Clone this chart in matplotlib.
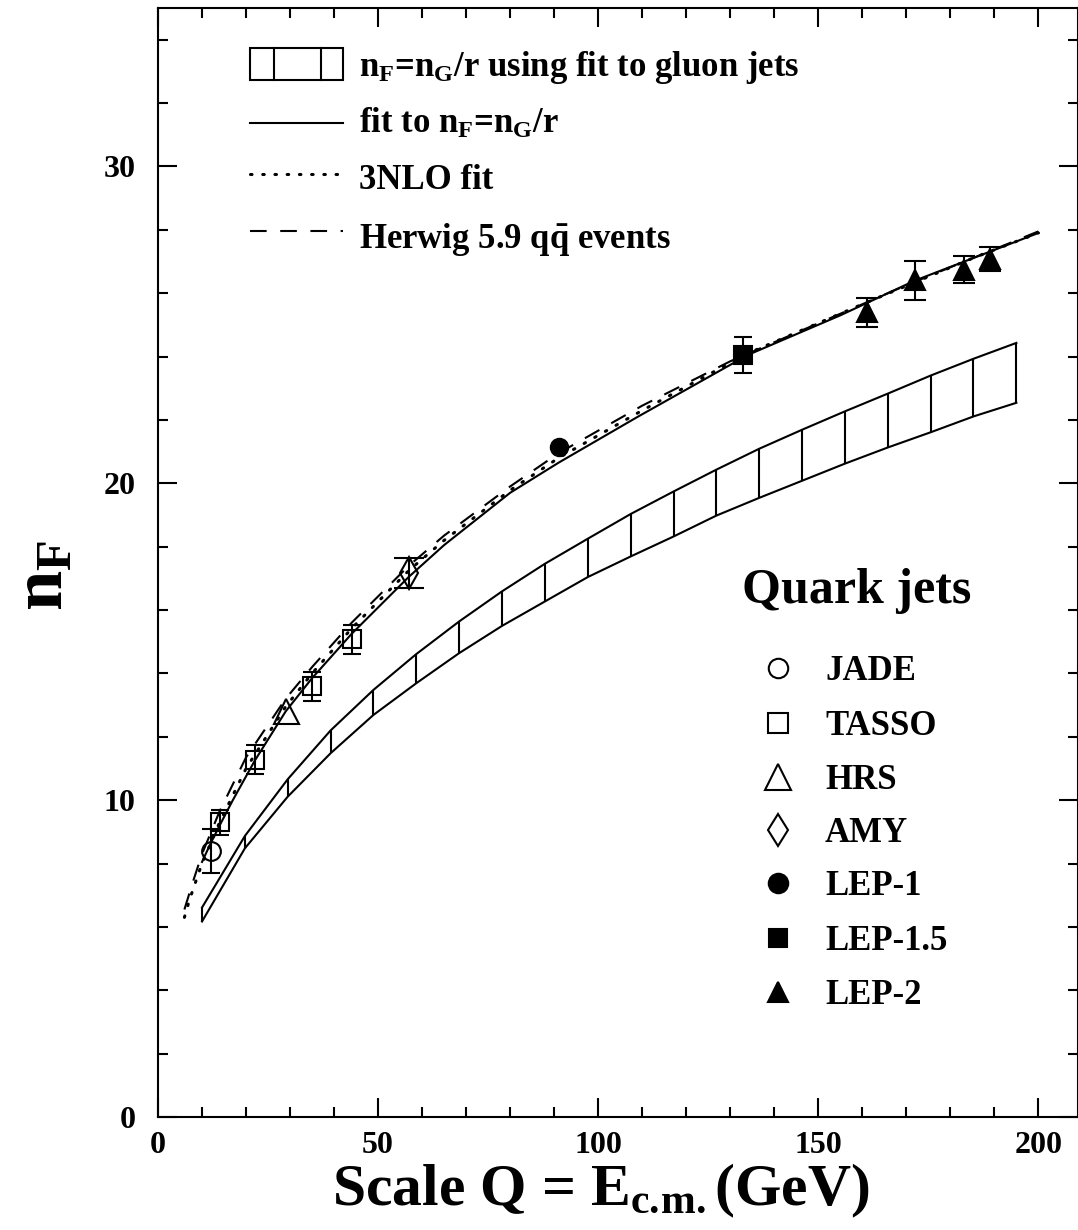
import numpy as np
import matplotlib
matplotlib.use("Agg")
import matplotlib.pyplot as plt
from matplotlib.ticker import MultipleLocator
from matplotlib.patches import Rectangle
from matplotlib.lines import Line2D

plt.rcParams['font.family'] = 'Liberation Serif'
plt.rcParams['font.weight'] = 'bold'
plt.rcParams['mathtext.fontset'] = 'custom'
plt.rcParams['mathtext.rm'] = 'Liberation Serif:bold'
plt.rcParams['mathtext.bf'] = 'Liberation Serif:bold'
plt.rcParams['mathtext.it'] = 'Liberation Serif:bold'

# band: n_F = n_G/r using fit to gluon jets
band_q = [10, 19.74, 29.47, 39.21, 48.95, 58.68, 68.42, 78.16, 87.89, 97.63,
          107.37, 117.11, 126.84, 136.58, 146.32, 156.05, 165.79, 175.53, 185.26, 195]
band_hi = [6.61, 8.87, 10.66, 12.20, 13.48, 14.61, 15.64, 16.59, 17.46, 18.25,
           19.03, 19.74, 20.43, 21.09, 21.69, 22.27, 22.83, 23.40, 23.93, 24.43]
band_lo = [6.17, 8.48, 10.11, 11.48, 12.69, 13.69, 14.64, 15.50, 16.27, 17.04,
           17.69, 18.32, 18.98, 19.54, 20.08, 20.62, 21.13, 21.61, 22.11, 22.54]

# fit to n_F = n_G/r (solid)
fit_q = [10, 12, 14, 17, 22, 29, 35, 44, 57, 65, 80, 91, 109, 134, 155, 172, 186, 200]
fit_n = [8.05, 8.65, 9.2, 10.0, 11.25, 12.8, 13.85, 15.25, 17.05, 18.05, 19.7, 20.65,
         22.1, 24.05, 25.3, 26.4, 27.15, 27.9]

# 3NLO fit (dotted)
nlo_q = [6, 7, 8, 9, 10, 14, 20, 29, 35, 44, 57, 65, 80, 91, 110, 134, 160, 185, 200]
nlo_n = [6.3, 6.78, 7.2, 7.6, 8.0, 9.3, 11.0, 12.95, 14.0, 15.42, 17.25, 18.2, 19.78,
         20.8, 22.3, 24.1, 25.65, 27.1, 27.9]

# Herwig 5.9 qq events (dashed)
hw_q = [6, 8, 10, 14, 20, 29, 35, 44, 57, 65, 80, 91, 110, 130, 150, 170, 185, 200]
hw_n = [6.55, 7.45, 8.3, 9.65, 11.35, 13.2, 14.2, 15.6, 17.4, 18.35, 19.9, 20.95,
        22.45, 23.85, 25.05, 26.25, 27.1, 27.95]

# data
jade_q, jade_n, jade_e = [12], [8.4], [0.7]
tasso_q, tasso_n, tasso_e = [14, 22, 35, 44], [9.3, 11.28, 13.59, 15.07], [0.4, 0.47, 0.45, 0.45]
hrs_q, hrs_n = [29], [12.8]
amy_q, amy_n, amy_e = [57], [17.17], [0.48]
lep1_q, lep1_n = [91.2], [21.13]
lep15_q, lep15_n, lep15_e = [133], [24.05], [0.56]
lep2_q = [161, 172, 183, 189]
lep2_n = [25.39, 26.4, 26.74, 27.08]
lep2_e = [0.46, 0.6, 0.42, 0.38]

fig = plt.figure(figsize=(10.78, 12.30), dpi=100)
ax = fig.add_axes([158/1078, 1-1117/1230, 920/1078, 1109/1230])

lw = 1.5
# band
ax.plot(band_q, band_hi, color='black', lw=lw)
ax.plot(band_q, band_lo, color='black', lw=lw)
ax.vlines(band_q, band_lo, band_hi, color='black', lw=lw)

# curves
ax.plot(fit_q, fit_n, color='black', lw=lw)
ax.plot(nlo_q, nlo_n, color='black', lw=2.2, linestyle=(0, (0.5, 3.5)), dash_capstyle='round')
ax.plot(hw_q, hw_n, color='black', lw=lw, linestyle=(0, (8, 6.5)))

# data points
eb = dict(color='black', ecolor='black', elinewidth=lw, capthick=lw, mew=lw, linestyle='none')
ax.errorbar(jade_q, jade_n, yerr=jade_e, fmt='o', ms=13.5, mfc='none', capsize=6.5, **eb)
ax.errorbar(tasso_q, tasso_n, yerr=tasso_e, fmt='s', ms=13, mfc='none', capsize=6.5, **eb)
ax.plot(hrs_q, hrs_n, '^', ms=18, mfc='none', mec='black', mew=lw)
ax.errorbar(amy_q, amy_n, yerr=amy_e, fmt='d', ms=16, mfc='none', capsize=11, **eb)
ax.plot(lep1_q, lep1_n, 'o', ms=13, color='black')
ax.errorbar(lep15_q, lep15_n, yerr=lep15_e, fmt='s', ms=13, capsize=6.5, **eb)
ax.errorbar(lep2_q, lep2_n, yerr=lep2_e, fmt='^', ms=15, capsize=8, **eb)

ax.set_xlim(0, 209)
ax.set_ylim(0, 35)
ax.xaxis.set_major_locator(MultipleLocator(50))
ax.xaxis.set_minor_locator(MultipleLocator(10))
ax.yaxis.set_major_locator(MultipleLocator(10))
ax.yaxis.set_minor_locator(MultipleLocator(2))
ax.tick_params(which='both', direction='in', top=True, right=True, width=1.5, labelsize=23)
ax.tick_params(which='major', length=13.7)
ax.tick_params(which='minor', length=7.2)
ax.tick_params(axis='x', pad=10)
ax.tick_params(axis='y', pad=16)
for s in ax.spines.values():
    s.set_linewidth(1.5)

fig.text(601/1078, 1-1205/1230, r'Scale Q = E$_{\mathrm{c.\!m.}}$(GeV)', fontsize=43,
         ha='center', va='baseline')
fig.text(45/1078, 1-575/1230, r'n$_\mathrm{F}$', fontsize=52, rotation=90,
         ha='center', va='center')

# top legend (axes fraction)
T = ax.transAxes
ax.add_patch(Rectangle((0.100, 0.935), 0.101, 0.029, transform=T, fill=False, lw=lw, clip_on=False))
for xv in [0.126, 0.177]:
    ax.add_line(Line2D([xv, xv], [0.935, 0.964], transform=T, color='black', lw=lw))
ax.add_line(Line2D([0.100, 0.201], [0.896, 0.896], transform=T, color='black', lw=lw))
ax.add_line(Line2D([0.100, 0.201], [0.850, 0.850], transform=T, color='black', lw=2.2,
                   linestyle=(0, (0.5, 3.5)), dash_capstyle='round'))
ax.add_line(Line2D([0.100, 0.201], [0.799, 0.799], transform=T, color='black', lw=lw,
                   linestyle=(0, (8, 6.5))))
top_labels = [r'n$_\mathrm{F}$=n$_\mathrm{G}$/r using fit to gluon jets',
              r'fit to n$_\mathrm{F}$=n$_\mathrm{G}$/r',
              '3NLO fit',
              r'Herwig 5.9 q$\bar{\mathrm{q}}$ events']
top_y = [0.9387, 0.8873, 0.8368, 0.7836]
for lab, yv in zip(top_labels, top_y):
    ax.text(0.2185, yv, lab, transform=T, fontsize=25, va='baseline')

# data legend
ax.text(0.635, 0.4635, 'Quark jets', transform=T, fontsize=36, va='baseline')
leg_names = ['JADE', 'TASSO', 'HRS', 'AMY', 'LEP-1', 'LEP-1.5', 'LEP-2']
leg_marks = ['o', 's', '^', 'd', 'o', 's', '^']
leg_fill = ['none', 'none', 'none', 'none', 'black', 'black', 'black']
leg_ms = [14, 14, 19, 16.5, 14, 13, 14.5]
leg_y = [0.4049, 0.3553, 0.3066, 0.2588, 0.2110, 0.1614, 0.1127]
for name, m, f, ms, yv in zip(leg_names, leg_marks, leg_fill, leg_ms, leg_y):
    ax.plot([0.674], [yv], marker=m, ms=ms, mfc=f, mec='black', mew=lw,
            transform=T, clip_on=False, linestyle='none')
    ax.text(0.725, yv - 0.0108, name, transform=T, fontsize=25, va='baseline')

fig.savefig('out.png', dpi=100)
